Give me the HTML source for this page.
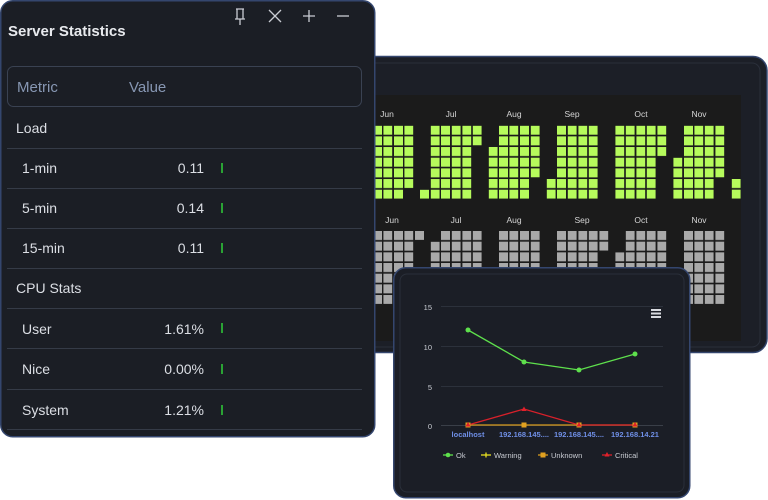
<!DOCTYPE html>
<html><head><meta charset="utf-8"><style>
html,body{margin:0;padding:0;background:#fff;width:768px;height:500px;overflow:hidden}
svg text{font-family:"Liberation Sans",sans-serif}
</style></head><body>
<svg width="768" height="500" viewBox="0 0 768 500" xmlns="http://www.w3.org/2000/svg">
<defs>
<pattern id="g" patternUnits="userSpaceOnUse" width="20" height="10.67"><rect x="0" y="0" width="9" height="9" fill="#b6fb5c"/></pattern>
<pattern id="s" patternUnits="userSpaceOnUse" width="20" height="10.67"><rect x="0" y="0" width="9" height="9" fill="#a9a9a9"/></pattern>
</defs>
<!-- heatmap panel -->
<rect x="360" y="56.5" width="407" height="296" rx="14" fill="#1c1f27" stroke="#34466e" stroke-width="1.5"/>
<rect x="360" y="63" width="400" height="284" rx="8" fill="none" stroke="#2a2f3a" stroke-width="1"/>
<rect x="370" y="95" width="371" height="246" fill="#1b1b1b"/>
<g font-size="8.5" fill="#d6d6d6" text-anchor="middle">
<text x="387" y="117">Jun</text><text x="451" y="117">Jul</text><text x="514" y="117">Aug</text><text x="572" y="117">Sep</text><text x="641" y="117">Oct</text><text x="699" y="117">Nov</text>
<text x="392" y="223">Jun</text><text x="456" y="223">Jul</text><text x="514" y="223">Aug</text><text x="582" y="223">Sep</text><text x="641" y="223">Oct</text><text x="699" y="223">Nov</text>
</g>
<g fill="url(#g)">
<rect transform="translate(373,125.7)" width="9" height="73"/>
<rect transform="translate(383.3,125.7)" width="9" height="73"/>
<rect transform="translate(394,125.7)" width="9" height="73"/>
<rect transform="translate(404.3,125.7)" width="9" height="62.4"/>
<rect transform="translate(420,189.7)" width="9" height="9"/>
<rect transform="translate(430.7,125.7)" width="9" height="73"/>
<rect transform="translate(441,125.7)" width="9" height="73"/>
<rect transform="translate(451.7,125.7)" width="9" height="73"/>
<rect transform="translate(462.3,125.7)" width="9" height="73"/>
<rect transform="translate(472.7,125.7)" width="9" height="19.7"/>
<rect transform="translate(488.7,147)" width="9" height="51.7"/>
<rect transform="translate(499,125.7)" width="9" height="73"/>
<rect transform="translate(509.3,125.7)" width="9" height="73"/>
<rect transform="translate(520,125.7)" width="9" height="73"/>
<rect transform="translate(530.7,125.7)" width="9" height="51.7"/>
<rect transform="translate(546.7,179)" width="9" height="19.7"/>
<rect transform="translate(557,125.7)" width="9" height="73"/>
<rect transform="translate(567.7,125.7)" width="9" height="73"/>
<rect transform="translate(578.3,125.7)" width="9" height="73"/>
<rect transform="translate(588.7,125.7)" width="9" height="73"/>
<rect transform="translate(615.3,125.7)" width="9" height="73"/>
<rect transform="translate(625.7,125.7)" width="9" height="73"/>
<rect transform="translate(636.3,125.7)" width="9" height="73"/>
<rect transform="translate(646.7,125.7)" width="9" height="73"/>
<rect transform="translate(657.3,125.7)" width="9" height="30.4"/>
<rect transform="translate(673.3,157.7)" width="9" height="41"/>
<rect transform="translate(684,125.7)" width="9" height="73"/>
<rect transform="translate(694.3,125.7)" width="9" height="73"/>
<rect transform="translate(704.7,125.7)" width="9" height="73"/>
<rect transform="translate(715.3,125.7)" width="9" height="51.7"/>
<rect transform="translate(731.7,179)" width="9" height="19.7"/>
</g>
<g fill="url(#s)">
<rect transform="translate(373,231)" width="9" height="73"/>
<rect transform="translate(383.3,231)" width="9" height="73"/>
<rect transform="translate(394,231)" width="9" height="73"/>
<rect transform="translate(404.3,231)" width="9" height="73"/>
<rect transform="translate(415,231)" width="9" height="9"/>
<rect transform="translate(430.7,241.7)" width="9" height="62.4"/>
<rect transform="translate(441,231)" width="9" height="73"/>
<rect transform="translate(451.7,231)" width="9" height="73"/>
<rect transform="translate(462.3,231)" width="9" height="73"/>
<rect transform="translate(472.7,231)" width="9" height="73"/>
<rect transform="translate(499,231)" width="9" height="73"/>
<rect transform="translate(509.3,231)" width="9" height="73"/>
<rect transform="translate(520,231)" width="9" height="73"/>
<rect transform="translate(530.7,231)" width="9" height="73"/>
<rect transform="translate(557,231)" width="9" height="73"/>
<rect transform="translate(567.7,231)" width="9" height="73"/>
<rect transform="translate(578.3,231)" width="9" height="73"/>
<rect transform="translate(588.7,231)" width="9" height="73"/>
<rect transform="translate(599.3,231)" width="9" height="19.7"/>
<rect transform="translate(615.3,252.3)" width="9" height="51.7"/>
<rect transform="translate(625.7,231)" width="9" height="73"/>
<rect transform="translate(636.3,231)" width="9" height="73"/>
<rect transform="translate(646.7,231)" width="9" height="73"/>
<rect transform="translate(657.3,231)" width="9" height="73"/>
<rect transform="translate(684,231)" width="9" height="73"/>
<rect transform="translate(694.3,231)" width="9" height="73"/>
<rect transform="translate(704.7,231)" width="9" height="73"/>
<rect transform="translate(715.3,231)" width="9" height="73"/>
</g>

<!-- left panel -->
<rect x="0.75" y="0.75" width="374" height="436" rx="12" fill="#1b1e25" stroke="#34466e" stroke-width="1.5"/>
<text x="8" y="36" font-size="15" font-weight="bold" fill="#e8eaee">Server Statistics</text>
<g stroke="#c9ccd3" stroke-width="1.3" fill="none">
<path d="M236 9h8M237 9v10h6v-10M240 19v6M235 19h10"/>
<path d="M269 10l12 12M281 10l-12 12"/>
<path d="M309 10v12M303 16h12"/>
<path d="M337 16h12"/>
</g>
<rect x="7.5" y="66.5" width="354" height="40" rx="6" fill="none" stroke="#3a4252"/>
<text x="17" y="92" font-size="15" fill="#8797b3">Metric</text>
<text x="129" y="92" font-size="15" fill="#8797b3">Value</text>
<g font-size="14" fill="#dcdfe5">
<text x="16" y="133">Load</text>
<text x="22" y="173">1-min</text><text x="204" y="173" text-anchor="end">0.11</text>
<text x="22" y="213">5-min</text><text x="204" y="213" text-anchor="end">0.14</text>
<text x="22" y="253">15-min</text><text x="204" y="253" text-anchor="end">0.11</text>
<text x="16" y="293">CPU Stats</text>
<text x="22" y="334">User</text><text x="204" y="334" text-anchor="end">1.61%</text>
<text x="22" y="374">Nice</text><text x="204" y="374" text-anchor="end">0.00%</text>
<text x="22" y="415">System</text><text x="204" y="415" text-anchor="end">1.21%</text>
</g>
<g stroke="#353b47" stroke-width="1">
<path d="M7 148.5h355M7 188.5h355M7 228.5h355M7 268.5h355M7 308.5h355M7 348.5h355M7 389.5h355M7 429.5h355"/>
</g>
<g stroke="#2fcf3a" stroke-width="1.5">
<path d="M222 163v10M222 203v10M222 243v10M222 323v10M222 364v10M222 405v10"/>
</g>

<!-- chart panel -->
<rect x="393.75" y="267.75" width="296" height="230" rx="12" fill="#1b1e26" stroke="#34466e" stroke-width="1.5"/>
<rect x="400" y="274" width="284" height="218" rx="7" fill="none" stroke="#2a2f3a"/>
<g stroke="#2c313b" stroke-width="1">
<path d="M441 306.5h222M441 346.5h222M441 386.5h222"/>
</g>
<path d="M441 425.5h222" stroke="#3a3f48"/>
<g font-size="7.5" fill="#c9ccd3" text-anchor="end">
<text x="432" y="310">15</text><text x="432" y="350">10</text><text x="432" y="390">5</text><text x="432" y="429">0</text>
</g>
<g fill="#d8dadf"><rect x="651" y="309" width="10" height="2"/><rect x="651" y="312.5" width="10" height="2"/><rect x="651" y="316" width="10" height="2"/></g>
<polyline points="468,330 524,362 579,370 635,354" fill="none" stroke="#5ee04c" stroke-width="1.3"/>
<g fill="#5ee04c"><circle cx="468" cy="330" r="2.5"/><circle cx="524" cy="362" r="2.5"/><circle cx="579" cy="370" r="2.5"/><circle cx="635" cy="354" r="2.5"/></g>
<path d="M468 425h167" stroke="#d89a1c" stroke-width="1.3"/>
<polyline points="468,425 524,409 579,425 635,425" fill="none" stroke="#d8202a" stroke-width="1.3"/>
<g fill="#e0a020"><rect x="465.5" y="422.5" width="5" height="5"/><rect x="521.5" y="422.5" width="5" height="5"/><rect x="576.5" y="422.5" width="5" height="5"/><rect x="632.5" y="422.5" width="5" height="5"/></g>
<g fill="#e0202a"><path d="M468 422l2.5 4.5h-5z"/><path d="M524 406.5l2.5 4.5h-5z"/><path d="M579 422l2.5 4.5h-5z"/><path d="M635 422l2.5 4.5h-5z"/></g>
<g font-size="7.5" fill="#6f8fe6" font-weight="bold" text-anchor="middle">
<text x="468" y="437">localhost</text><text x="524" y="437">192.168.145....</text><text x="579" y="437">192.168.145....</text><text x="635" y="437">192.168.14.21</text>
</g>
<g font-size="7.5" fill="#c9ccd3">
<path d="M443 455h10" stroke="#5ee04c" stroke-width="1.3"/><circle cx="448" cy="455" r="2.3" fill="#5ee04c"/><text x="456" y="458">Ok</text>
<path d="M481 455h10" stroke="#e8e020" stroke-width="1.3"/><path d="M486 452.5v5" stroke="#e8e020" stroke-width="1.3"/><text x="494" y="458">Warning</text>
<path d="M538 455h10" stroke="#d89a1c" stroke-width="1.3"/><rect x="540.5" y="452.5" width="5" height="5" fill="#e0a020"/><text x="551" y="458">Unknown</text>
<path d="M602 455h10" stroke="#d8202a" stroke-width="1.3"/><path d="M607 452l2.5 4.5h-5z" fill="#e0202a"/><text x="615" y="458">Critical</text>
</g>
</svg>
</body></html>
